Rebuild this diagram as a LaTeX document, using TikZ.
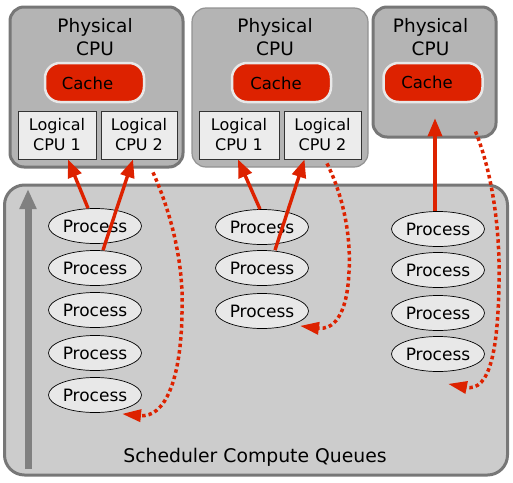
\documentclass[tikz,border=0pt]{standalone}
\usepackage{fontspec}
\setmainfont{DejaVu Sans}
\usetikzlibrary{shapes.geometric,arrows.meta,calc}
\definecolor{cpured}{RGB}{221,34,0}
\definecolor{cpugray}{RGB}{180,180,180}
\definecolor{queuegray}{RGB}{204,204,204}
\definecolor{boxborder}{RGB}{119,119,119}
\definecolor{cacheborder}{RGB}{232,232,232}
\definecolor{logfill}{RGB}{236,236,236}
\definecolor{procfill}{RGB}{232,232,232}
\definecolor{arrowgray}{RGB}{128,128,128}
\begin{document}
\begin{tikzpicture}[x=1pt,y=-1pt,
  cpubox/.style={draw=boxborder, fill=cpugray, rounded corners=14pt, line width=3pt, inner sep=0pt},
  thinbox/.style={cpubox, line width=1.2pt, draw=boxborder!80},
  cachebox/.style={draw=cacheborder, fill=cpured, rounded corners=15pt, line width=2.5pt, inner sep=0pt, minimum width=99pt, minimum height=39pt},
  logbox/.style={draw=black!80, fill=logfill, line width=0.8pt, inner sep=0pt, minimum height=48pt, align=center, font=\fontsize{16}{20}\selectfont},
  proc/.style={ellipse, draw=black, fill=procfill, line width=0.7pt, minimum width=93pt, minimum height=35pt, inner sep=0pt, font=\fontsize{17}{20}\selectfont},
  titletext/.style={align=center, font=\fontsize{18.5}{23}\selectfont, inner sep=0pt},
  cachetext/.style={font=\fontsize{16.5}{20}\selectfont, inner sep=0pt},
  redarrow/.style={draw=cpured, line width=3.4pt, -{Triangle[length=18pt,width=14pt]}},
  dotarrow/.style={draw=cpured, line width=3.5pt, dash pattern=on 3.5pt off 3pt, -{Triangle[length=19pt,width=12pt]}}
]
\useasboundingbox (0,0) rectangle (513,482);

% Physical CPU boxes
\node[cpubox, minimum width=173pt, minimum height=160pt] (cpu1) at (96.5,87) {};
\node[thinbox, minimum width=176pt, minimum height=159pt] (cpu2) at (280,87.5) {};
\node[cpubox, minimum width=123pt, minimum height=130pt] (cpu3) at (434.5,72) {};

\node[titletext] (t1) at (95,37) {Physical\\CPU};
\node[titletext] (t2) at (275,37) {Physical\\CPU};
\node[titletext] (t3) at (430.5,37) {Physical\\CPU};

% Caches
\node[cachebox] (c1) at (94.5,82.5) {};
\node[cachebox] (c2) at (281.5,82.5) {};
\node[cachebox] (c3) at (433,82.5) {};
\node[cachetext] at (87.5,83) {Cache};
\node[cachetext] at (276,83) {Cache};
\node[cachetext] at (427,82) {Cache};

% Logical CPUs
\node[logbox, minimum width=78pt] (l11) at (57,135) {Logical\\CPU 1};
\node[logbox, minimum width=76pt] (l12) at (139,135) {Logical\\CPU 2};
\node[logbox, minimum width=80pt] (l21) at (239,135) {Logical\\CPU 1};
\node[logbox, minimum width=77pt] (l22) at (322.5,135) {Logical\\CPU 2};

% Queue box
\node[cpubox, fill=queuegray, rounded corners=20pt, minimum width=503pt, minimum height=290pt] (queue) at (256,330) {};
\node[font=\fontsize{18.8}{22}\selectfont, inner sep=0pt] (qlabel) at (255,457) {Scheduler Compute Queues};

% Gray arrow
\coordinate (ga0) at (28,469);
\coordinate (ga1) at (28,189);
\draw[draw=arrowgray, line width=7pt, -{Triangle[length=20pt,width=16pt]}] (ga0) -- (ga1);

% Processes
\foreach \i/\y in {1/226,2/268,3/310,4/353,5/395}
  \node[proc] (p1\i) at (95,\y) {Process};
\foreach \i/\y in {1/227,2/268,3/311}
  \node[proc] (p2\i) at (262,\y) {Process};
\foreach \i/\y in {1/229,2/270,3/313,4/354}
  \node[proc] (p3\i) at (438,\y) {Process};

% Solid arrows
\draw[redarrow] ($(p11.north)+(-7,0)$) -- ($(l11.south)+(11,0)$);
\draw[redarrow] ($(p12.north)+(8,0)$) -- ($(l12.south)+(-6,0)$);
\draw[redarrow] ($(p21.north)+(-2,0)$) -- ($(l21.south)+(-1,0)$);
\draw[redarrow] ($(p22.north)+(13,0)$) -- ($(l22.south)+(-18,0)$);
\draw[redarrow] ($(p31.north)+(-3,0)$) -- ($(c3.south)+(2,15)$);

% Dotted arrows
\draw[dotarrow] ($(l12.south)+(14,13)$) .. controls (172,215) and (184,265) .. (182,313)
   .. controls (181,380) and (165,418) .. ($(p15.south)+(27,1)$);
\draw[dotarrow] ($(l22.south)+(4.5,4)$) .. controls (345,200) and (351,240) .. (349,272)
   .. controls (347,318) and (332,330) .. ($(p23.south)+(38,-3)$);
\draw[dotarrow] ($(cpu3.south)+(41,-7)$) .. controls (495,180) and (500,240) .. (499,282)
   .. controls (498,350) and (490,392) .. ($(p34.south)+(10,12)$);
\end{tikzpicture}
\end{document}
